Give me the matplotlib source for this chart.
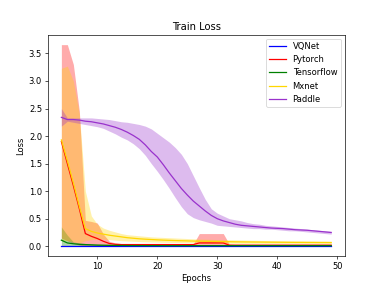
import matplotlib
matplotlib.use("Agg")
import matplotlib.pyplot as plt

# epochs on x axis
epochs = list(range(4, 50))

# VQNet
vq_mean = [0.005] * 46
vq_lo = [0.0] * 46
vq_hi = [0.012] * 46

# Pytorch
pt_mean = [1.90, 1.50, 1.10, 0.68, 0.23, 0.18, 0.14, 0.09, 0.05, 0.035,
           0.03, 0.03, 0.03, 0.03, 0.03, 0.03, 0.03, 0.03, 0.03, 0.03,
           0.03, 0.03, 0.03, 0.06, 0.06, 0.06, 0.06, 0.06, 0.02, 0.02,
           0.02, 0.02, 0.02, 0.02, 0.02, 0.02, 0.02, 0.02, 0.02, 0.02,
           0.02, 0.02, 0.02, 0.02, 0.02, 0.02]
pt_hi = [3.66, 3.66, 3.30, 2.45, 0.47, 0.45, 0.42, 0.22, 0.09, 0.06,
         0.05, 0.05, 0.05, 0.05, 0.05, 0.05, 0.05, 0.05, 0.05, 0.05,
         0.04, 0.04, 0.04, 0.23, 0.23, 0.23, 0.23, 0.23, 0.04, 0.03,
         0.03, 0.03, 0.03, 0.03, 0.03, 0.03, 0.03, 0.03, 0.03, 0.03,
         0.03, 0.03, 0.03, 0.03, 0.03, 0.03]
pt_lo = [0.15, 0.10, 0.05, 0.02] + [0.0] * 42

# Tensorflow
tf_mean = [0.11, 0.06, 0.045, 0.035, 0.03, 0.025, 0.02, 0.018, 0.016, 0.015,
           0.014, 0.013, 0.012, 0.012, 0.011, 0.011, 0.011, 0.010, 0.010, 0.010] + [0.01] * 26
tf_hi = [0.35, 0.20, 0.08, 0.06, 0.05, 0.045, 0.04, 0.035, 0.033, 0.032] + [0.03] * 36
tf_lo = [0.0] * 46

# Mxnet
mx_mean = [1.93, 1.55, 1.15, 0.72, 0.32, 0.27, 0.24, 0.22, 0.20, 0.185,
           0.17, 0.155, 0.145, 0.135, 0.128, 0.122, 0.116, 0.111, 0.107, 0.103,
           0.10, 0.097, 0.094, 0.092, 0.09, 0.088, 0.086, 0.084, 0.082, 0.08,
           0.079, 0.078, 0.077, 0.076, 0.075, 0.074, 0.073, 0.072, 0.071, 0.07,
           0.07, 0.069, 0.069, 0.068, 0.068, 0.067]
mx_hi = [3.23, 3.27, 3.00, 2.40, 1.00, 0.55, 0.40, 0.33, 0.29, 0.26,
         0.23, 0.21, 0.20, 0.19, 0.18, 0.17, 0.165, 0.16, 0.155, 0.15,
         0.145, 0.14, 0.135, 0.13, 0.128, 0.125, 0.122, 0.12, 0.118, 0.115,
         0.113, 0.11, 0.108, 0.106, 0.104, 0.102, 0.10, 0.099, 0.098, 0.097,
         0.096, 0.095, 0.094, 0.093, 0.092, 0.091]
mx_lo = [0.10, 0.10, 0.08, 0.06, 0.10, 0.12, 0.13, 0.13, 0.12, 0.11,
         0.10, 0.095, 0.09, 0.085, 0.08, 0.078, 0.075, 0.072, 0.07, 0.068,
         0.066, 0.064, 0.062, 0.06, 0.058, 0.057, 0.056, 0.055, 0.054, 0.053,
         0.052, 0.052, 0.051, 0.051, 0.05, 0.05, 0.049, 0.049, 0.048, 0.048,
         0.047, 0.047, 0.046, 0.046, 0.045, 0.045]

# Paddle
pd_mean = [2.34, 2.30, 2.30, 2.29, 2.27, 2.26, 2.24, 2.22, 2.19, 2.16,
           2.12, 2.07, 2.01, 1.94, 1.84, 1.72, 1.62, 1.48, 1.33, 1.19,
           1.05, 0.93, 0.82, 0.73, 0.64, 0.56, 0.50, 0.46, 0.43, 0.40,
           0.38, 0.37, 0.36, 0.35, 0.34, 0.33, 0.325, 0.32, 0.31, 0.30,
           0.295, 0.29, 0.28, 0.27, 0.26, 0.25]
pd_hi = [2.50, 2.33, 2.33, 2.33, 2.33, 2.33, 2.32, 2.31, 2.30, 2.28,
         2.26, 2.25, 2.23, 2.21, 2.18, 2.13, 2.05, 1.97, 1.89, 1.79,
         1.67, 1.50, 1.28, 1.06, 0.85, 0.68, 0.60, 0.55, 0.50, 0.48,
         0.46, 0.43, 0.41, 0.40, 0.38, 0.37, 0.36, 0.35, 0.34, 0.33,
         0.32, 0.31, 0.30, 0.29, 0.28, 0.27]
pd_lo = [2.18, 2.27, 2.25, 2.23, 2.21, 2.19, 2.17, 2.14, 2.09, 2.04,
         1.98, 1.93, 1.86, 1.77, 1.65, 1.50, 1.36, 1.21, 1.05, 0.88,
         0.72, 0.59, 0.52, 0.48, 0.45, 0.42, 0.38, 0.37, 0.36, 0.35,
         0.34, 0.33, 0.32, 0.32, 0.31, 0.31, 0.30, 0.29, 0.28, 0.28,
         0.27, 0.26, 0.25, 0.24, 0.23, 0.22]

series = [
    ("VQNet", vq_mean, vq_lo, vq_hi, "blue"),
    ("Pytorch", pt_mean, pt_lo, pt_hi, "red"),
    ("Tensorflow", tf_mean, tf_lo, tf_hi, "green"),
    ("Mxnet", mx_mean, mx_lo, mx_hi, "gold"),
    ("Paddle", pd_mean, pd_lo, pd_hi, "darkorchid"),
]

fig, ax = plt.subplots(figsize=(383 / 60, 4.8), dpi=60)
for name, m, lo, hi, c in series:
    ax.plot(epochs, m, color=c, label=name)
    ax.fill_between(epochs, lo, hi, color=c, alpha=0.33, linewidth=0)

ax.set_title("Train Loss")
ax.set_xlabel("Epochs")
ax.set_ylabel("Loss")
ax.legend(loc="upper right")
fig.savefig("out.png", dpi=60)
